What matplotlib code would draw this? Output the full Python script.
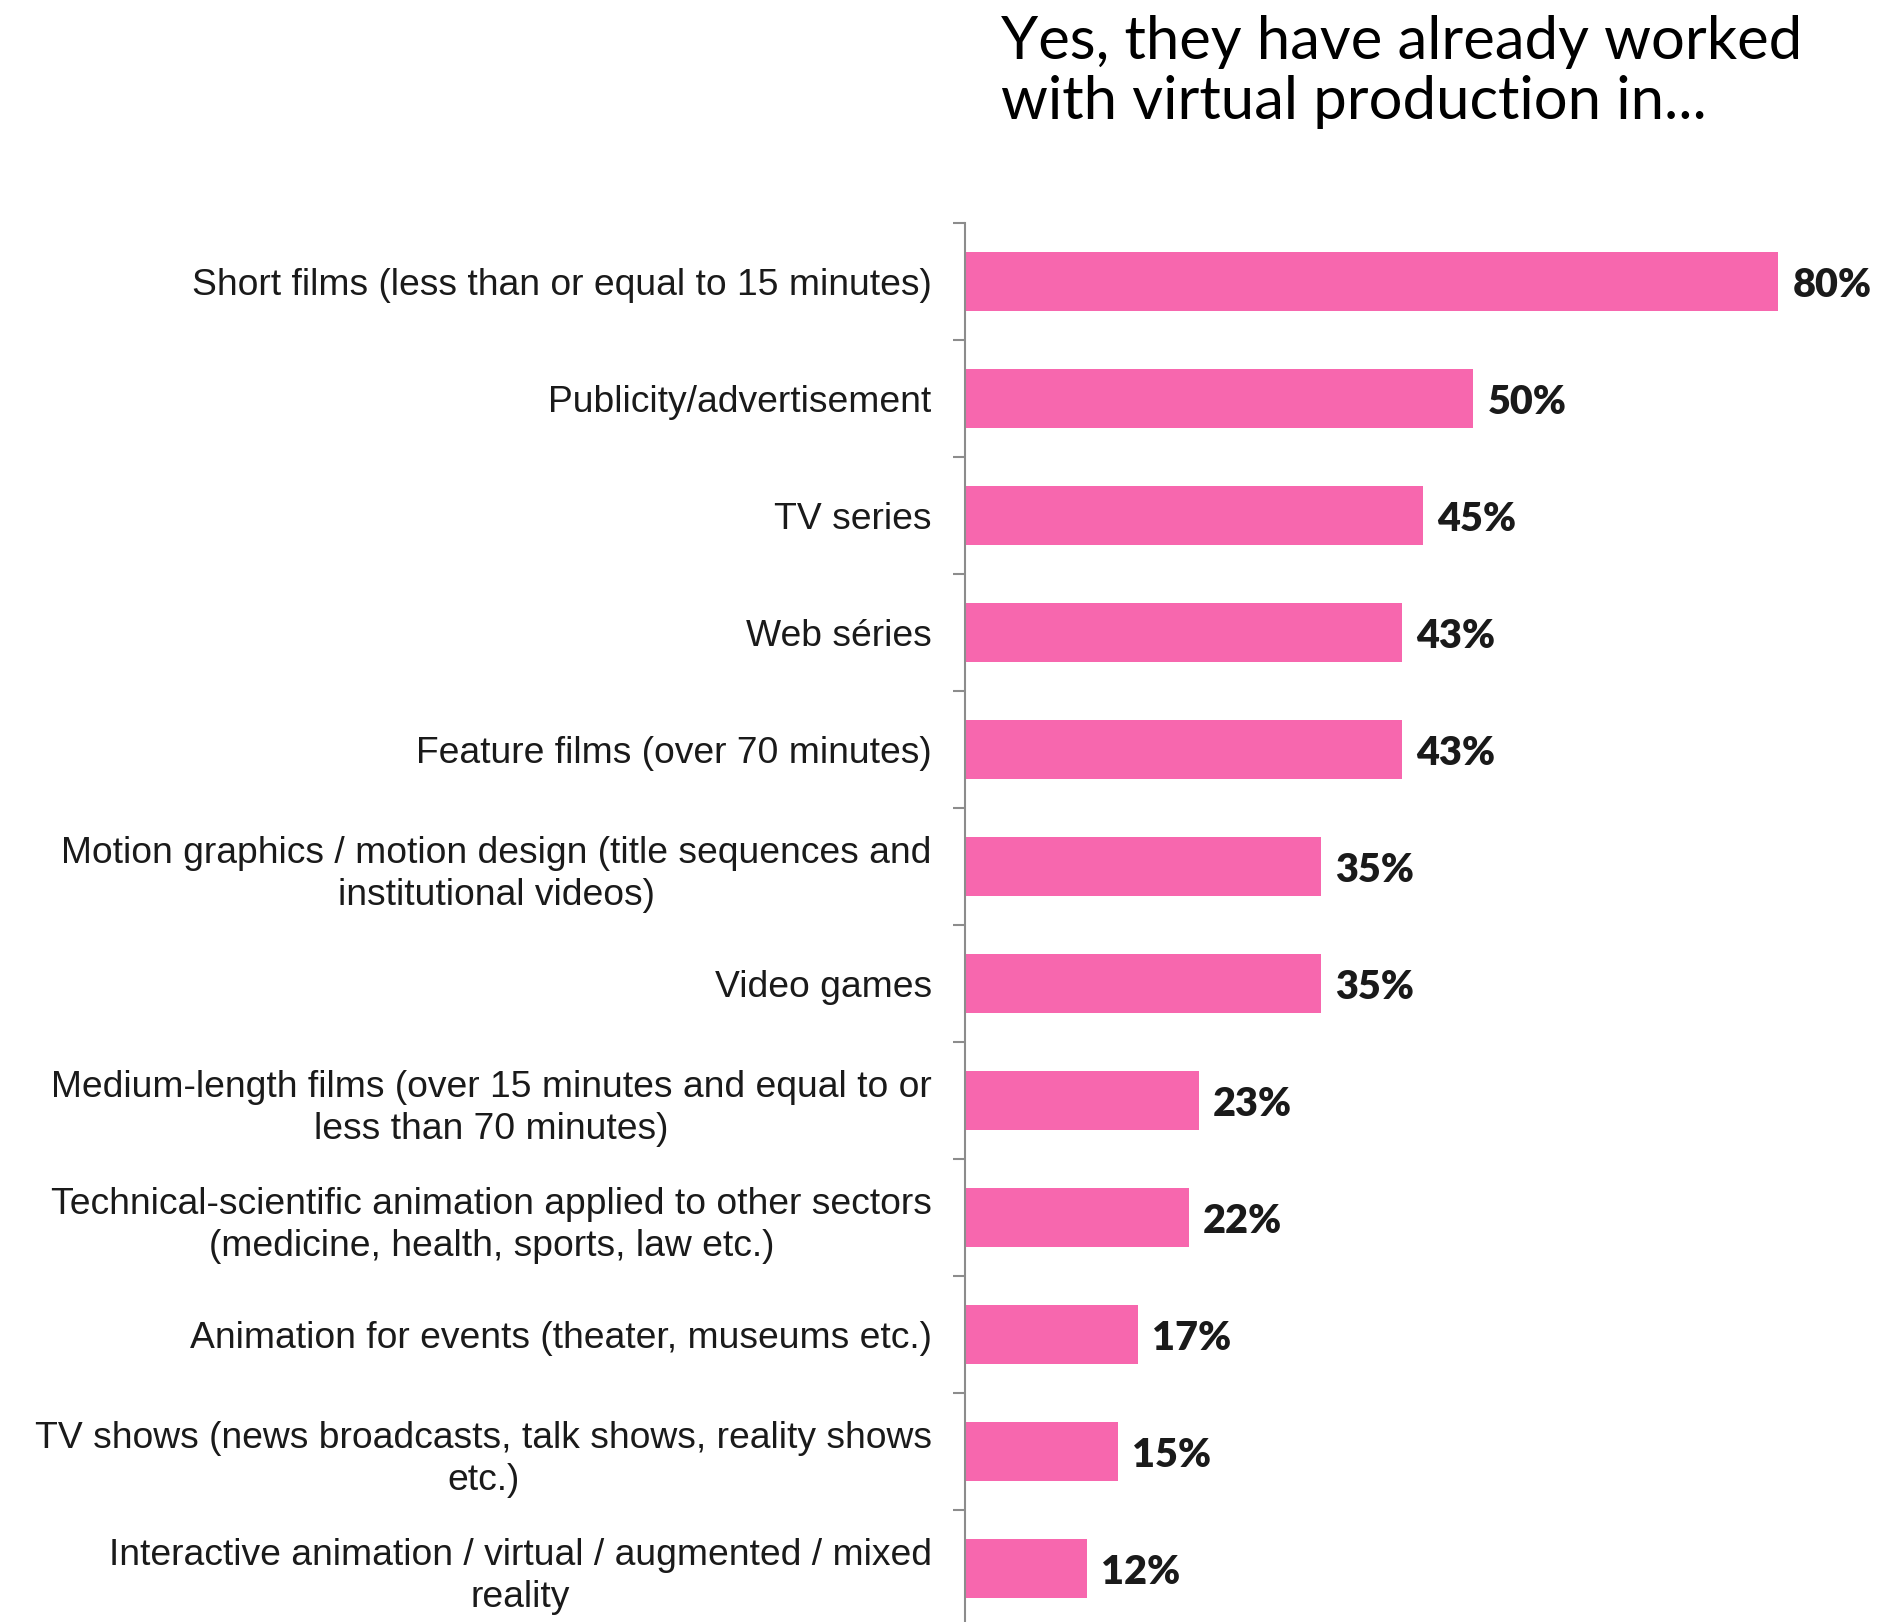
import matplotlib
matplotlib.use("Agg")
import matplotlib.pyplot as plt
import numpy as np

# Sectors where respondents have used virtual production (% of respondents)
categories = [
    "Short films (less than or equal to 15 minutes)",
    "Publicity/advertisement",
    "TV series",
    "Web séries",
    "Feature films (over 70 minutes)",
    "Motion graphics / motion design (title sequences and\ninstitutional videos)",
    "Video games",
    "Medium-length films (over 15 minutes and equal to or\nless than 70 minutes)",
    "Technical-scientific animation applied to other sectors\n(medicine, health, sports, law etc.)",
    "Animation for events (theater, museums etc.)",
    "TV shows (news broadcasts, talk shows, reality shows\netc.)",
    "Interactive animation / virtual / augmented / mixed\nreality",
]
values = [80, 50, 45, 43, 43, 35, 35, 23, 22, 17, 15, 12]
value_labels = ["80%", "50%", "45%", "43%", "43%", "35%", "35%", "23%", "22%", "17%", "15%", "12%"]

BAR_COLOR = "#F767AE"
AXIS_GREY = "#8c8c8c"
TEXT_DARK = "#1a1a1a"

fig = plt.figure(figsize=(18.8, 16.22), dpi=100)
ax = fig.add_axes([0.5133, -0.0031, 0.4867, 0.8656])

y = np.arange(len(categories))
ax.barh(y, values, height=0.5, color=BAR_COLOR, edgecolor="none")

ax.set_ylim(len(categories) - 0.5, -0.5)
ax.set_xlim(0, 90)

# category labels at bar centres, boundary ticks as minor ticks
ax.set_yticks(y)
ax.set_yticklabels(categories, fontsize=26.8, family="Liberation Sans",
                   color=TEXT_DARK, multialignment="center", linespacing=1.28)
ax.tick_params(axis="y", which="major", length=0, pad=24)
ax.set_yticks(np.arange(-0.5, len(categories), 1.0), minor=True)
ax.tick_params(axis="y", which="minor", length=9, width=1.5, color=AXIS_GREY)

ax.set_xticks([])
for side in ["top", "right", "bottom"]:
    ax.spines[side].set_visible(False)
ax.spines["left"].set_color(AXIS_GREY)
ax.spines["left"].set_linewidth(1.5)

# value labels next to each bar
for yi, v, lab in zip(y, values, value_labels):
    ax.text(v + 1.4, yi + 0.03, lab, va="center", ha="left", fontsize=28.5,
            family="Lato", fontweight="heavy", color=TEXT_DARK)

fig.text(0.5324, 0.991, "Yes, they have already worked\nwith virtual production in...",
         ha="left", va="top", fontsize=43, family="Lato", fontweight="normal",
         color="black", linespacing=1.14)

fig.savefig("out.png", dpi=100, facecolor="white")
